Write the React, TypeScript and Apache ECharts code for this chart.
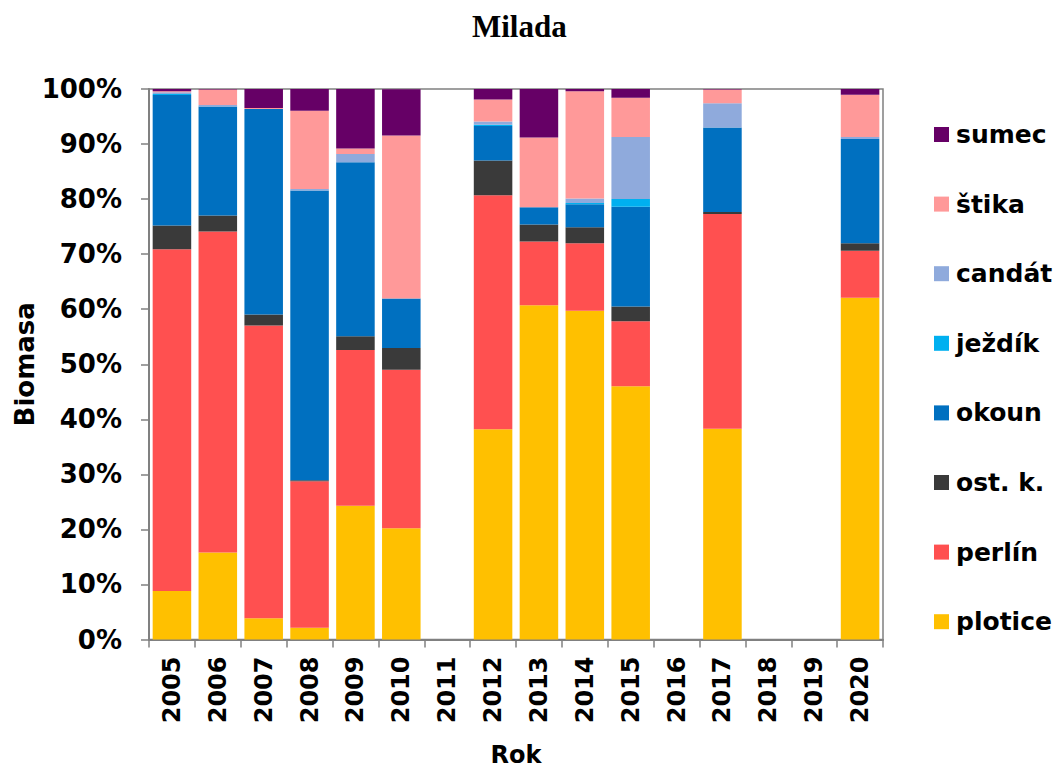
import React, { useEffect, useRef } from "react";
import * as echarts from "echarts";

const years = ["2005", "2006", "2007", "2008", "2009", "2010", "2011", "2012", "2013", "2014", "2015", "2016", "2017", "2018", "2019", "2020"];
const plotice = [8.8, 15.8, 3.85, 2.15, 24.3, 20.2, 0, 38.2, 60.7, 59.7, 46.0, 0, 38.3, 0, 0, 62.1];
const perlin = [62.1, 58.3, 53.2, 26.6, 28.3, 28.8, 0, 42.5, 11.6, 12.3, 11.8, 0, 39.0, 0, 0, 8.5];
const ostK = [4.3, 2.9, 2.0, 0.2, 2.5, 3.95, 0, 6.3, 3.1, 2.9, 2.7, 0, 0.35, 0, 0, 1.4];
const okoun = [23.7, 19.8, 37.3, 52.6, 31.6, 9.0, 0, 6.3, 3.1, 4.15, 18.1, 0, 15.35, 0, 0, 18.9];
const jezdik = [0.2, 0, 0, 0, 0, 0, 0, 0.2, 0, 0.25, 1.4, 0, 0, 0, 0, 0];
const candat = [0.3, 0.3, 0, 0.3, 1.5, 0, 0, 0.6, 0, 0.8, 11.3, 0, 4.4, 0, 0, 0.4];
const stika = [0.2, 2.8, 0.2, 14.2, 1.0, 29.6, 0, 4.0, 12.7, 19.5, 7.1, 0, 2.5, 0, 0, 7.65];
const sumec = [0.4, 0.1, 3.45, 3.95, 10.8, 8.4, 0, 1.9, 8.8, 0.4, 1.6, 0, 0.1, 0, 0, 1.05];

const seriesNames = ["plotice", "perlín", "ost. k.", "okoun", "ježdík", "candát", "štika", "sumec"];
const seriesData = [plotice, perlin, ostK, okoun, jezdik, candat, stika, sumec];
const seriesColors = ["#FFC000", "#FF5050", "#3A3A3A", "#0070C0", "#00B0F0", "#8FAADC", "#FF9999", "#660066"];
const yTicks = [0, 10, 20, 30, 40, 50, 60, 70, 80, 90, 100];

const FONT = "DejaVu Sans";

export default function App() {
  const ref = useRef<HTMLDivElement>(null);
  useEffect(() => {
    if (!ref.current) return;
    const chart = echarts.init(ref.current, undefined, { renderer: "svg" });
    chart.setOption({
      animation: false,
      backgroundColor: "#ffffff",
      title: {
        text: "Milada",
        left: 467,
        top: 6,
        textStyle: { fontFamily: "Liberation Serif", fontWeight: "bold", fontSize: 31, color: "#000" },
      },
      grid: {
        left: 149,
        right: 174,
        top: 89,
        bottom: 129.5,
        outerBoundsMode: "none",
        containLabel: false,
        show: true,
        borderColor: "#808080",
        borderWidth: 1.5,
      },
      legend: {
        orient: "vertical",
        left: 929,
        top: 117,
        itemWidth: 15,
        itemHeight: 15,
        itemGap: 44.6,
        icon: "rect",
        data: [...seriesNames].reverse(),
        textStyle: { fontFamily: FONT, fontWeight: "bold", fontSize: 25, color: "#000", lineHeight: 25, padding: [0, 0, 0, 2] },
      },
      xAxis: {
        type: "category",
        data: years,
        name: "Rok",
        nameLocation: "middle",
        nameGap: 105,
        nameMoveOverlap: false,
        nameTextStyle: { fontFamily: FONT, fontWeight: "bold", fontSize: 24, color: "#000", lineHeight: 20 },
        axisLine: { lineStyle: { color: "#808080", width: 2 } },
        axisTick: { show: true, length: 8, alignWithLabel: false, lineStyle: { color: "#808080", width: 1.5 } },
        axisLabel: { rotate: 90, margin: 17, fontFamily: FONT, fontWeight: "bold", fontSize: 24, color: "#000" },
      },
      yAxis: {
        type: "value",
        min: 0,
        max: 100,
        interval: 10,
        name: "Biomasa",
        nameLocation: "middle",
        nameGap: 111,
        nameMoveOverlap: false,
        nameTextStyle: { fontFamily: FONT, fontWeight: "bold", fontSize: 26, color: "#000" },
        axisLine: { show: true, lineStyle: { color: "#808080", width: 2 } },
        axisTick: { show: true, length: 8, lineStyle: { color: "#808080", width: 1.5 } },
        splitLine: { show: false },
        axisLabel: {
          margin: 27,
          fontFamily: FONT,
          fontWeight: "bold",
          fontSize: 26,
          color: "#000",
          formatter: (v: number) => (yTicks.includes(v) ? v + "%" : ""),
        },
      },
      series: seriesNames.map((name, i) => ({
        name,
        type: "bar",
        stack: "total",
        barCategoryGap: "16%",
        data: seriesData[i],
        itemStyle: { color: seriesColors[i] },
      })),
    });
    return () => chart.dispose();
  }, []);
  return <div ref={ref} style={{ position: "fixed", left: 0, top: 0, width: 1057, height: 769 }} />;
}
